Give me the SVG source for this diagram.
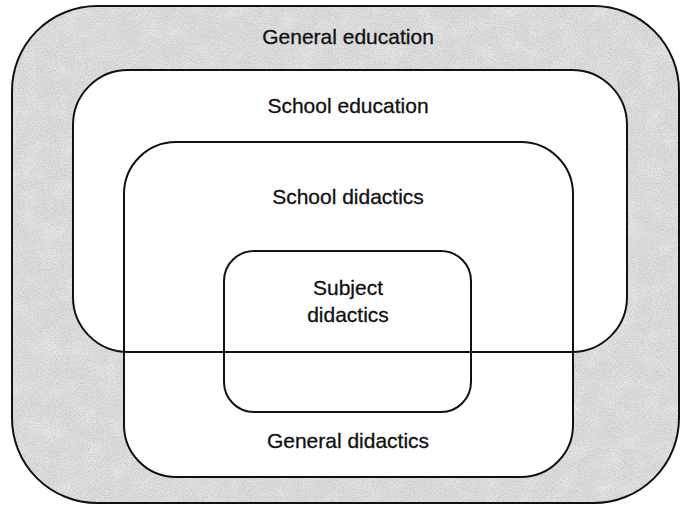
<svg xmlns="http://www.w3.org/2000/svg" width="680" height="505" viewBox="0 0 680 505">
  <style>
    .outline { fill: none; stroke: #111; stroke-width: 2; }
    .paper { fill: #fff; stroke: none; }
    .label { font-family: "Liberation Sans", Arial, sans-serif; font-size: 21px; fill: #111; stroke: #111; stroke-width: 0.3; text-anchor: middle; }
  </style>
  <defs>
    <!-- grainy speckle used over the grey outer field -->
    <filter id="grain" x="0" y="0" width="100%" height="100%">
      <feTurbulence type="fractalNoise" baseFrequency="0.85" numOctaves="2" seed="7" result="noise"/>
      <feColorMatrix in="noise" type="matrix"
        values="0 0 0 0 0.35  0 0 0 0 0.35  0 0 0 0 0.35  0.9 0 0 0 -0.33" result="specks"/>
      <feComposite in="specks" in2="SourceAlpha" operator="in"/>
    </filter>
    <!-- faint lighter blotches in the grey field -->
    <filter id="blotch" x="0" y="0" width="100%" height="100%">
      <feTurbulence type="fractalNoise" baseFrequency="0.05" numOctaves="2" seed="11" result="low"/>
      <feColorMatrix in="low" type="matrix"
        values="0 0 0 0 1  0 0 0 0 1  0 0 0 0 1  0.7 0 0 0 -0.3" result="light"/>
      <feComposite in="light" in2="SourceAlpha" operator="in"/>
    </filter>
  </defs>

  <!-- grey field of the outermost set -->
  <rect x="12" y="6" width="667" height="497" rx="85" fill="#e0e0e0"/>
  <rect x="12" y="6" width="667" height="497" rx="85" fill="#000" filter="url(#blotch)"/>
  <rect x="12" y="6" width="667" height="497" rx="85" fill="#000" filter="url(#grain)"/>

  <!-- white interiors of the nested sets, painted before any outline -->
  <g id="backgrounds">
    <rect class="paper" x="73" y="70" width="554" height="282" rx="55"/>
    <rect class="paper" x="124" y="142" width="449" height="335" rx="52"/>
    <rect class="paper" x="224" y="251" width="247" height="161" rx="30"/>
  </g>

  <g id="general-education">
    <rect class="outline" x="12" y="6" width="667" height="497" rx="85"/>
    <text class="label" x="348" y="44">General education</text>
  </g>

  <g id="school-education">
    <rect class="outline" x="73" y="70" width="554" height="282" rx="55"/>
    <text class="label" x="348" y="113">School education</text>
  </g>

  <g id="didactics">
    <rect class="outline" x="124" y="142" width="449" height="335" rx="52"/>
    <text class="label" x="348" y="204">School didactics</text>
    <text class="label" x="348" y="448">General didactics</text>
  </g>

  <g id="subject-didactics">
    <rect class="outline" x="224" y="251" width="247" height="161" rx="30"/>
    <text class="label" x="348" y="295">Subject</text>
    <text class="label" x="348" y="322">didactics</text>
  </g>

  <g id="connectors"/>
</svg>
